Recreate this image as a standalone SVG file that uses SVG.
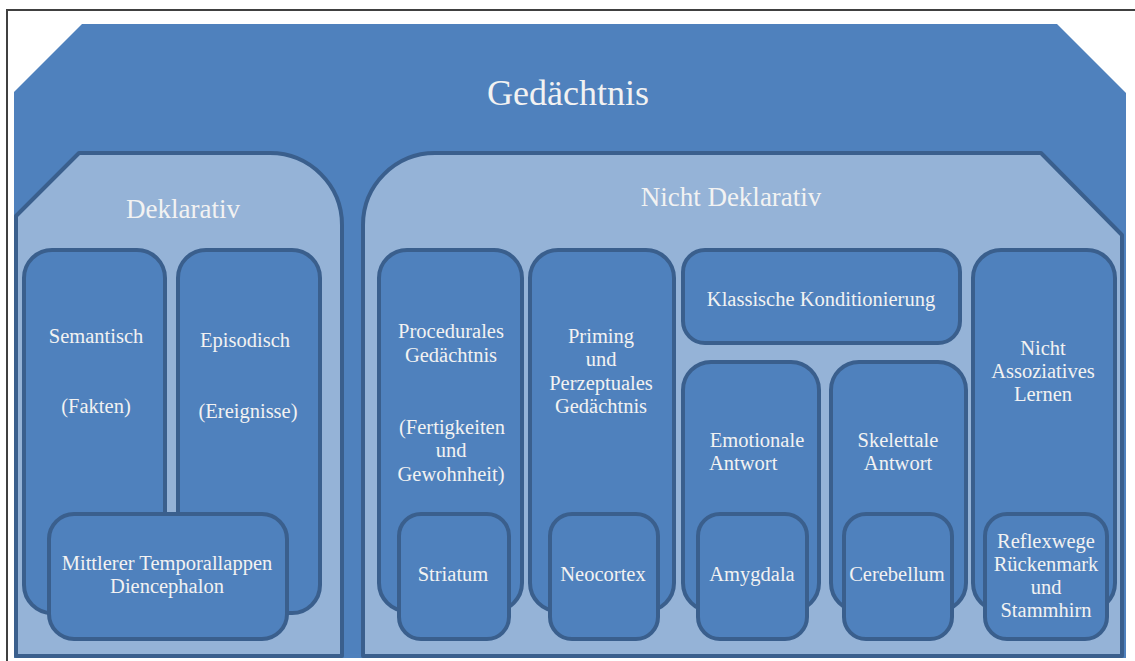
<svg xmlns="http://www.w3.org/2000/svg" width="1135" height="661" viewBox="0 0 1135 661">
<style>
.frame{fill:none;stroke:#404040;stroke-width:2}
.main{fill:#4F81BD}
.panel{fill:#95B3D7;stroke:#3A5F8D;stroke-width:4;stroke-linejoin:round}
.box{fill:#4F81BD;stroke:#3A5F8D;stroke-width:4}
text{fill:#F2F2F2;text-anchor:middle;font-family:"Liberation Serif","Times New Roman",serif}
.t1{font-size:36px}
.t2{font-size:27px}
.t3{font-size:20.5px}
</style>
<rect x="0" y="0" width="1135" height="661" fill="#FFFFFF"/>
<path class="frame" d="M7 661 L7 10 L1135 10"/>
<g id="gedaechtnis">
<path class="main" d="M82 24 L1057 24 L1126 93 L1126 658 L14 658 L14 92 Z"/>
<text class="t1" x="568" y="105">Gedächtnis</text>
</g>
<g id="deklarativ">
<path class="panel" d="M79 153 L270 153 A72 72 0 0 1 342 225 L342 656 L16 656 L16 216 Z"/>
<text class="t2" x="183" y="218">Deklarativ</text>
</g>
<g id="nicht-deklarativ">
<path class="panel" d="M435 153 L1041 153 L1122 235 L1122 656 L363 656 L363 225 A72 72 0 0 1 435 153 Z"/>
<text class="t2" x="731" y="206">Nicht Deklarativ</text>
</g>
<g id="semantisch">
<rect class="box" x="24" y="250" width="141" height="363" rx="28"/>
<text class="t3" x="96" y="343">Semantisch</text>
<text class="t3" x="96" y="413">(Fakten)</text>
</g>
<g id="episodisch">
<rect class="box" x="178" y="250" width="142" height="363" rx="28"/>
<text class="t3" x="245" y="347">Episodisch</text>
<text class="t3" x="248" y="418">(Ereignisse)</text>
</g>
<g id="mittlerer-temporallappen">
<rect class="box" x="49" y="514" width="238" height="125" rx="25"/>
<text class="t3" x="167" y="570">Mittlerer Temporallappen</text>
<text class="t3" x="167" y="593">Diencephalon</text>
</g>
<g id="procedurales">
<rect class="box" x="379" y="250" width="143" height="361" rx="28"/>
<text class="t3" x="451" y="338">Procedurales</text>
<text class="t3" x="451" y="362">Gedächtnis</text>
<text class="t3" x="452" y="434">(Fertigkeiten</text>
<text class="t3" x="451" y="457">und</text>
<text class="t3" x="451" y="481">Gewohnheit)</text>
</g>
<g id="priming">
<rect class="box" x="530" y="250" width="144" height="361" rx="28"/>
<text class="t3" x="601" y="343">Priming</text>
<text class="t3" x="601" y="366">und</text>
<text class="t3" x="601" y="390">Perzeptuales</text>
<text class="t3" x="601" y="413">Gedächtnis</text>
</g>
<g id="klassische-konditionierung">
<rect class="box" x="683" y="250" width="277" height="93" rx="22"/>
<text class="t3" x="821" y="306">Klassische Konditionierung</text>
</g>
<g id="emotionale-antwort">
<rect class="box" x="683" y="362" width="136" height="249" rx="28"/>
<text class="t3" x="757" y="447">Emotionale</text>
<text class="t3" x="709" y="470" style="text-anchor:start">Antwort</text>
</g>
<g id="skelettale-antwort">
<rect class="box" x="831" y="362" width="135" height="249" rx="28"/>
<text class="t3" x="898" y="447">Skelettale</text>
<text class="t3" x="898" y="470">Antwort</text>
</g>
<g id="nicht-assoziatives-lernen">
<rect class="box" x="973" y="250" width="142" height="361" rx="28"/>
<text class="t3" x="1043" y="355">Nicht</text>
<text class="t3" x="1043" y="378">Assoziatives</text>
<text class="t3" x="1043" y="401">Lernen</text>
</g>
<g id="striatum">
<rect class="box" x="399" y="514" width="110" height="125" rx="22"/>
<text class="t3" x="453" y="581">Striatum</text>
</g>
<g id="neocortex">
<rect class="box" x="550" y="514" width="108" height="125" rx="22"/>
<text class="t3" x="603" y="581">Neocortex</text>
</g>
<g id="amygdala">
<rect class="box" x="698" y="514" width="109" height="125" rx="22"/>
<text class="t3" x="752" y="581">Amygdala</text>
</g>
<g id="cerebellum">
<rect class="box" x="844" y="514" width="108" height="125" rx="22"/>
<text class="t3" x="897" y="581">Cerebellum</text>
</g>
<g id="reflexwege">
<rect class="box" x="985" y="514" width="122" height="125" rx="22"/>
<text class="t3" x="1046" y="548">Reflexwege</text>
<text class="t3" x="1046" y="571">Rückenmark</text>
<text class="t3" x="1046" y="594">und</text>
<text class="t3" x="1046" y="617">Stammhirn</text>
</g>
<g id="connectors"></g>
</svg>
